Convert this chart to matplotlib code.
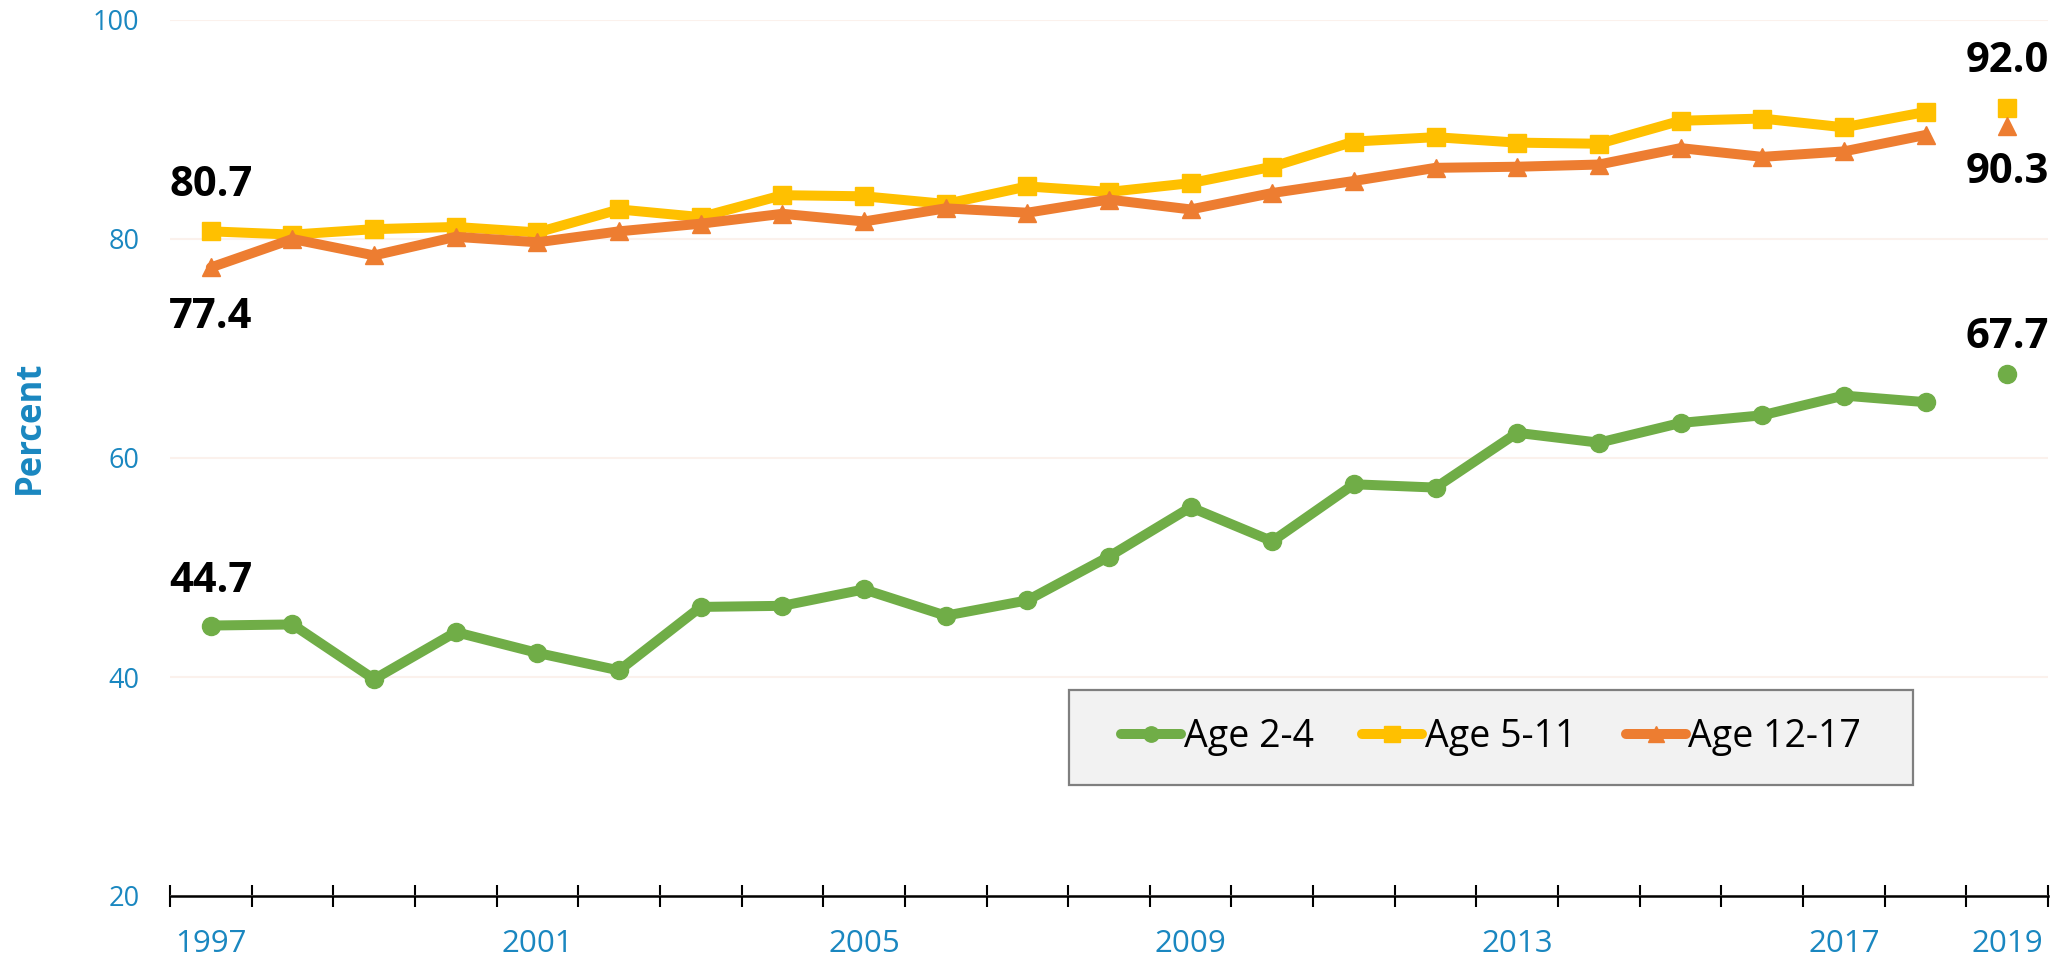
import matplotlib
matplotlib.use('Agg')
import matplotlib.pyplot as plt
import matplotlib.ticker as ticker
from matplotlib.patches import Rectangle

plt.rcParams.update({
  'font.family'      : ['Open Sans', 'DejaVu Sans'],
  'figure.facecolor' : 'w',
  'figure.dpi'       : 100,
  'figure.figsize'   : (20.69, 9.6),
  'axes.linewidth'   : 1.8,
  'lines.linewidth'  : 7.2,
  'lines.markersize' : 13,
})

# Data (percent)
years = list(range(1997, 2019))
year_last = 2019
series_names = ['Age 2-4', 'Age 5-11', 'Age 12-17']

age_2_4 = [44.7, 44.8, 39.8, 44.1, 42.2, 40.6, 46.4, 46.5, 48.0, 45.6, 47.0,
           51.0, 55.5, 52.4, 57.6, 57.3, 62.3, 61.4, 63.2, 63.9, 65.7, 65.1]
age_5_11 = [80.7, 80.4, 80.9, 81.1, 80.6, 82.7, 82.0, 84.0, 83.9, 83.2, 84.8,
            84.3, 85.1, 86.6, 88.9, 89.3, 88.8, 88.7, 90.8, 91.0, 90.2, 91.6]
age_12_17 = [77.4, 80.0, 78.5, 80.2, 79.7, 80.7, 81.4, 82.3, 81.6, 82.8, 82.4,
             83.6, 82.7, 84.2, 85.3, 86.5, 86.6, 86.8, 88.3, 87.5, 88.0, 89.5]
last_values = [67.7, 92.0, 90.3]

x_labels = [1997, 2001, 2005, 2009, 2013, 2017, 2019]
y_ticks = [20, 40, 60, 80, 100]

colors = ['#70AD47', '#FFC000', '#ED7D31']
markers = ['o', 's', '^']
blue = '#1A87C0'

fig = plt.figure()
ax = fig.add_axes([170 / 2069, 64 / 960, 1878 / 2069, 876 / 960])

handles = []
for vals, last, name, c, m in zip([age_2_4, age_5_11, age_12_17], last_values,
                                  series_names, colors, markers):
    line, = ax.plot(years, vals, color=c, marker=m, label=name, zorder=3,
                    solid_joinstyle='round', solid_capstyle='round')
    line.set_clip_on(False)
    handles.append(line)
    # 2019 point is shown on its own
    ax.plot([year_last], [last], color=c, marker=m, linestyle='none', zorder=3,
            clip_on=False)

# value labels: (x, value, offset in points)
annots = [
    (years[0], age_5_11[0], 33),
    (years[0], age_12_17[0], -36),
    (years[0], age_2_4[0], 32),
    (year_last, last_values[1], 33),
    (year_last, last_values[2], -33),
    (year_last, last_values[0], 26),
]
for x, v, dy in annots:
    ax.annotate(f"{v:.1f}", (x, v), xytext=(0, dy), textcoords='offset points',
                ha='center', va='center', fontsize=30, weight='bold', color='black')

ax.set_xlim(1996.5, 2019.5)
ax.set_ylim(20, 100)

# category-style axis: ticks between years, labels on some years
ax.xaxis.set_major_locator(ticker.FixedLocator([y - 0.5 for y in range(1997, 2021)]))
ax.xaxis.set_major_formatter(ticker.NullFormatter())
ax.xaxis.set_minor_locator(ticker.FixedLocator(x_labels))
ax.xaxis.set_minor_formatter(ticker.FixedFormatter([str(y) for y in x_labels]))
ax.tick_params(axis='x', which='major', direction='inout', length=16.5, width=1.5, color='black')
ax.tick_params(axis='x', which='minor', length=0, pad=24, labelsize=22.5, labelcolor=blue)

ax.set_yticks(y_ticks)
ax.tick_params(axis='y', length=0, pad=22, labelsize=19.5, labelcolor=blue)
ax.yaxis.grid(True, color='#FBF1EC', linewidth=1.5, zorder=0)
ax.set_axisbelow(True)

for s in ['left', 'right', 'top']:
    ax.spines[s].set_visible(False)
ax.spines['bottom'].set_color('black')

fig.text(29.5 / 2069, 1 - 427 / 960, 'Percent', rotation=90, ha='center', va='center',
         fontsize=25, weight='bold', color=blue)

# legend box
box = Rectangle((1069 / 2069, 1 - 785 / 960), 844 / 2069, 95 / 960,
                transform=fig.transFigure, facecolor='#F2F2F2', edgecolor='#7F7F7F',
                linewidth=1.6, zorder=1)
fig.add_artist(box)
leg = fig.legend(handles=handles, loc='center',
                 bbox_to_anchor=((1069 + 844 / 2) / 2069, 1 - 737.5 / 960),
                 ncol=3, frameon=False, fontsize=27, numpoints=1,
                 handlelength=1.6, handletextpad=0.08, columnspacing=1.3,
                 markerscale=0.85)
leg.set_zorder(5)

fig.savefig('out.png', dpi=100)
